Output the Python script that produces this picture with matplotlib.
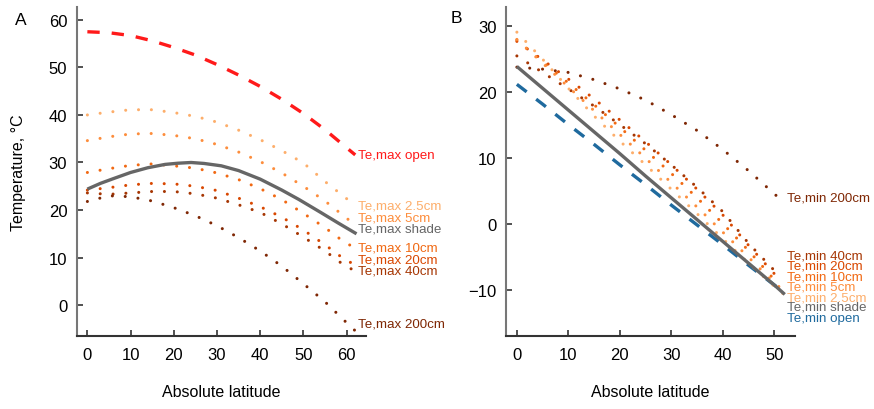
import matplotlib
matplotlib.use("Agg")
import matplotlib.pyplot as plt

plt.rcParams["font.family"] = ["Liberation Sans", "DejaVu Sans"]

# ---- panel A: maximum temperatures ----
lat_a = [0, 5, 10, 15, 20, 25, 30, 35, 40, 45, 50, 55, 60, 62]
max_open = [57.5, 57.3, 56.7, 55.6, 54.2, 52.6, 50.6, 48.4, 46.0, 43.3, 40.3, 36.9, 33.1, 31.6]
max_2_5 = [40.0, 40.6, 41.1, 41.1, 40.5, 39.7, 38.5, 36.8, 34.8, 32.5, 29.9, 26.0, 22.4, 20.8]
max_5 = [34.6, 35.4, 36.0, 36.1, 35.7, 35.0, 33.8, 32.2, 30.2, 27.8, 25.0, 21.9, 18.3, 16.8]
max_10 = [27.9, 28.7, 29.4, 29.7, 29.3, 28.8, 27.8, 26.4, 24.5, 22.2, 19.3, 16.3, 12.9, 12.2]
max_20 = [24.2, 24.7, 25.3, 25.6, 25.5, 25.0, 24.1, 22.5, 20.7, 18.5, 15.8, 12.7, 9.3, 8.6]
max_40 = [23.6, 23.3, 23.6, 23.9, 23.9, 23.4, 22.5, 21.1, 19.5, 17.1, 14.3, 11.4, 8.0, 7.3]
max_200 = [21.8, 23.0, 22.8, 21.9, 20.5, 18.8, 16.7, 14.2, 11.4, 8.2, 4.5, 0.7, -3.7, -5.4]
# shade curve read at more points so it stays smooth
lat_shade_a = [0, 3, 6, 10, 14, 18, 21, 24, 27, 31, 35, 40, 45, 49, 54, 58, 62.3]
max_shade = [24.4, 25.6, 26.6, 27.9, 28.9, 29.6, 29.85, 30.0, 29.8, 29.3, 28.3,
             26.5, 24.2, 22.2, 19.5, 17.3, 15.0]

# ---- panel B: minimum temperatures ----
lat_b = [0, 5, 10, 15, 20, 25, 30, 35, 40, 45, 50, 52]
lat_b_soil = [0, 5, 10, 15, 20, 25, 30, 35, 40, 45, 50, 51]
min_open = [21.2, 18.2, 15.1, 12.1, 9.0, 6.0, 2.9, -0.1, -3.1, -6.2, -9.2, -10.4]
min_shade = [23.9, 20.6, 17.3, 14.0, 10.7, 7.3, 4.0, 0.7, -2.6, -5.9, -9.2, -10.6]
min_2_5 = [29.1, 25.0, 20.6, 16.4, 12.6, 9.0, 5.3, 1.6, -2.2, -5.9, -9.4, -10.7]
min_200 = [23.8, 23.5, 23.0, 21.9, 20.5, 18.8, 16.6, 14.2, 11.3, 8.1, 4.6, 3.2]
min_5 = [28.0, 24.4, 20.8, 17.2, 13.6, 10.0, 6.3, 2.6, -1.2, -5.0, -8.9, -9.5]
min_10 = [27.9, 24.6, 21.4, 18.1, 14.7, 11.2, 7.7, 4.0, 0.1, -4.0, -8.4, -9.1]
min_20 = [27.7, 24.9, 22.0, 19.0, 15.8, 12.5, 9.0, 5.3, 1.4, -3.2, -7.5, -8.2]
min_40 = [25.5, 23.0, 20.5, 17.9, 15.1, 12.2, 9.0, 5.6, 1.9, -2.9, -7.0, -7.7]

c_open_max = "#ff1a1a"
c_open_min = "#1f6a9e"
c_shade = "#666666"
c_2_5 = "#fdae6b"
c_5 = "#fd8d3c"
c_10 = "#f16913"
c_20 = "#d94801"
c_40 = "#a63603"
c_200 = "#7f2704"

dot = dict(lw=2.2, linestyle=(0, (0.01, 4.2)), dash_capstyle="round")
dash = dict(lw=2.4, linestyle=(0, (3.7, 3.6)), dash_capstyle="butt")

fig = plt.figure(figsize=(8.74, 4.10), dpi=100)
ax1 = fig.add_axes([0.0881, 0.178, 0.3307, 0.8024])
ax2 = fig.add_axes([0.579, 0.178, 0.3307, 0.8024])

# panel A
ax1.plot(lat_a, max_open, color=c_open_max, **dash)
ax1.plot(lat_a, max_2_5, color=c_2_5, **dot)
ax1.plot(lat_a, max_5, color=c_5, **dot)
ax1.plot(lat_a, max_10, color=c_10, **dot)
ax1.plot(lat_a, max_20, color=c_20, **dot)
ax1.plot(lat_a, max_40, color=c_40, **dot)
ax1.plot(lat_a, max_200, color=c_200, **dot)
ax1.plot(lat_shade_a, max_shade, color=c_shade, lw=2.4, solid_capstyle="butt")

labels_a = [("Te,max open", 31.6, c_open_max), ("Te,max 2.5cm", 21.0, c_2_5),
            ("Te,max 5cm", 18.4, c_5), ("Te,max shade", 16.1, c_shade),
            ("Te,max 10cm", 12.1, c_10), ("Te,max 20cm", 9.6, c_20),
            ("Te,max 40cm", 7.3, c_40), ("Te,max 200cm", -3.9, c_200)]
for txt, yv, col in labels_a:
    ax1.text(62.7, yv, txt, color=col, fontsize=9.6, ha="left", va="center")

ax1.set_xlim(-2.4, 64.5)
ax1.set_ylim(-6.5, 62.7)
ax1.set_xticks([0, 10, 20, 30, 40, 50, 60])
ax1.set_yticks([0, 10, 20, 30, 40, 50, 60])
ax1.set_ylabel("Temperature, °C", fontsize=11.5, labelpad=16)

# panel B
ax2.plot(lat_b, min_open, color=c_open_min, **dash)
ax2.plot(lat_b, min_200, color=c_200, **dot)
ax2.plot(lat_b_soil, min_40, color=c_40, **dot)
ax2.plot(lat_b_soil, min_20, color=c_20, **dot)
ax2.plot(lat_b_soil, min_10, color=c_10, **dot)
ax2.plot(lat_b_soil, min_5, color=c_5, **dot)
ax2.plot(lat_b, min_2_5, color=c_2_5, **dot)
ax2.plot(lat_b, min_shade, color=c_shade, lw=2.4, solid_capstyle="butt")

labels_b = [("Te,min 200cm", 4.1, c_200), ("Te,min 40cm", -4.7, c_40),
            ("Te,min 20cm", -6.3, c_20), ("Te,min 10cm", -7.9, c_10),
            ("Te,min 5cm", -9.4, c_5), ("Te,min 2.5cm", -11.0, c_2_5),
            ("Te,min shade", -12.5, c_shade), ("Te,min open", -14.1, c_open_min)]
for txt, yv, col in labels_b:
    ax2.text(52.5, yv, txt, color=col, fontsize=9.6, ha="left", va="center")

ax2.set_xlim(-2.1, 54.0)
ax2.set_ylim(-16.9, 32.9)
ax2.set_xticks([0, 10, 20, 30, 40, 50])
ax2.set_yticks([-10, 0, 10, 20, 30])

for ax in (ax1, ax2):
    ax.spines["top"].set_visible(False)
    ax.spines["right"].set_visible(False)
    ax.spines["left"].set_color("#777777")
    ax.spines["bottom"].set_color("#333333")
    ax.spines["left"].set_linewidth(1.5)
    ax.spines["bottom"].set_linewidth(1.5)
    ax.tick_params(direction="in", length=4.5, width=1.2, color="#333333",
                   labelsize=12)
    ax.tick_params(axis="x", pad=8)
    ax.tick_params(axis="y", pad=7)
    ax.set_xlabel("Absolute latitude", fontsize=11.5, labelpad=15.5)

fig.text(0.0237, 0.951, "A", fontsize=12.5, ha="center", va="center")
fig.text(0.5225, 0.954, "B", fontsize=12.5, ha="center", va="center")

fig.savefig("out.png", dpi=100)
